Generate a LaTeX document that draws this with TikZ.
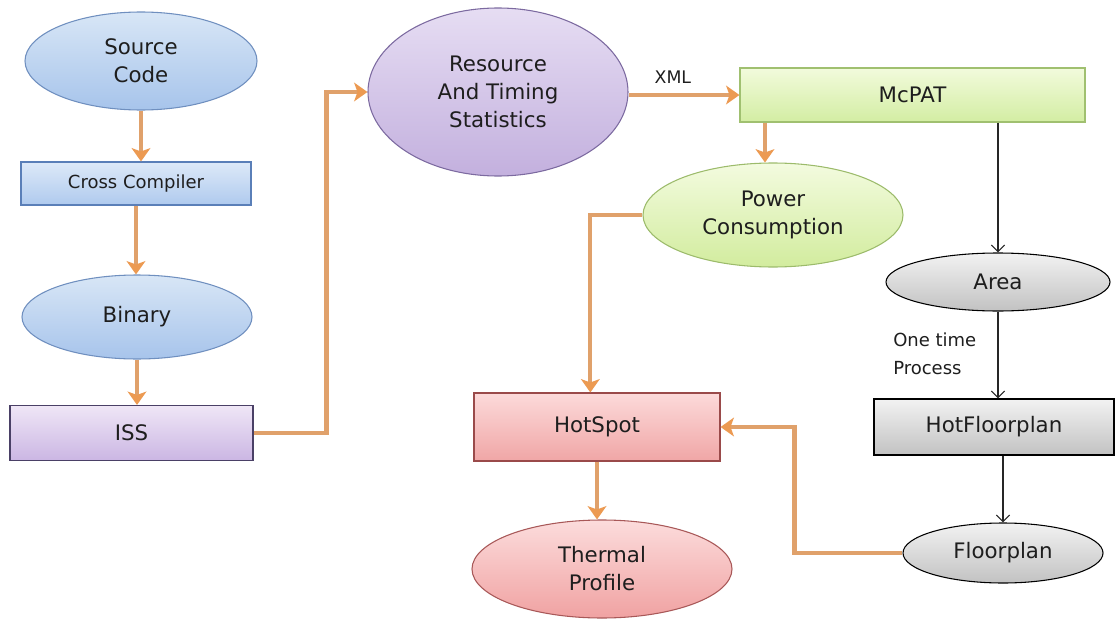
\documentclass[tikz,border=0pt]{standalone}
\usepackage{fontspec}
\setmainfont{DejaVu Sans}
\usetikzlibrary{shapes.geometric,arrows.meta,calc}
\definecolor{orng}{HTML}{E0A16B}
\definecolor{orngtip}{HTML}{EC9A52}
\definecolor{txt}{HTML}{1E1E1E}
\definecolor{bD}{HTML}{6F8FBF}\definecolor{bT}{HTML}{D8E6F6}\definecolor{bB}{HTML}{A7C4EB}
\definecolor{bxD}{HTML}{5A7FB8}\definecolor{bxT}{HTML}{DDE9F8}\definecolor{bxB}{HTML}{AFCAEE}
\definecolor{pD}{HTML}{7C6AA0}\definecolor{pT}{HTML}{E6DDF3}\definecolor{pB}{HTML}{C3B0DE}
\definecolor{pxD}{HTML}{4A4066}\definecolor{pxT}{HTML}{EFE6F6}\definecolor{pxB}{HTML}{CBB6E3}
\definecolor{gD}{HTML}{9CBB6B}\definecolor{gT}{HTML}{F3FBDF}\definecolor{gB}{HTML}{D2EC9E}
\definecolor{gxD}{HTML}{A0C070}\definecolor{gxT}{HTML}{F2FBDC}\definecolor{gxB}{HTML}{D3EDA3}
\definecolor{rD}{HTML}{A85858}\definecolor{rT}{HTML}{FCDCDC}\definecolor{rB}{HTML}{F0A2A2}
\definecolor{rxD}{HTML}{9A4A4A}\definecolor{rxT}{HTML}{FCDADA}\definecolor{rxB}{HTML}{F0A6A6}
\definecolor{kT}{HTML}{F2F2F2}\definecolor{kB}{HTML}{C2C2C2}
\tikzset{
  base/.style={draw, line width=0.8pt, inner sep=0pt, align=center, text=txt,
    font=\fontsize{16}{21}\selectfont},
  ell/.style={base, ellipse},
  box/.style={base, rectangle},
  blueell/.style={ell, draw=bD, top color=bT, bottom color=bB},
  purpell/.style={ell, draw=pD, top color=pT, bottom color=pB},
  greenell/.style={ell, draw=gD, top color=gT, bottom color=gB},
  pinkell/.style={ell, draw=rD, top color=rT, bottom color=rB},
  grayell/.style={ell, draw=black, top color=kT, bottom color=kB},
  bluebox/.style={box, draw=bxD, top color=bxT, bottom color=bxB},
  purpbox/.style={box, draw=pxD, top color=pxT, bottom color=pxB},
  greenbox/.style={box, draw=gxD, top color=gxT, bottom color=gxB},
  pinkbox/.style={box, draw=rxD, top color=rxT, bottom color=rxB},
  graybox/.style={box, draw=black, top color=kT, bottom color=kB},
  oarrow/.style={draw=orng, line width=3.2pt, -{Stealth[length=10pt,width=14pt,inset=2.5pt,color=orngtip]}},
  karrow/.style={draw=black!85, line width=0.9pt, -{Straight Barb[length=5pt,width=10pt]}},
  lbl/.style={inner sep=0pt, text=txt},
}
\begin{document}
\begin{tikzpicture}[x=0.75pt,y=-0.75pt]
\useasboundingbox (0,0) rectangle (1115,621);
% left column
\node[blueell, minimum width=232pt*0.75, minimum height=98pt*0.75] (src) at (141,61) {Source\\Code};
\node[bluebox, minimum width=230pt*0.75, minimum height=43pt*0.75, font=\fontsize{13.5}{18}\selectfont] (cc) at (136,183.5) {Cross Compiler};
\node[blueell, minimum width=230pt*0.75, minimum height=84pt*0.75] (bin) at (137,317) {Binary};
\node[purpbox, minimum width=243pt*0.75, minimum height=55pt*0.75] (iss) at (131.5,433) {ISS};
% middle
\node[purpell, minimum width=260pt*0.75, minimum height=168pt*0.75] (res) at (498,92) {Resource\\And Timing\\Statistics};
\node[greenbox, minimum width=345pt*0.75, minimum height=54pt*0.75] (mc) at (912.5,95) {McPAT};
\node[greenell, minimum width=260pt*0.75, minimum height=104pt*0.75] (pow) at (773,215) {Power\\Consumption};
\node[pinkbox, minimum width=246pt*0.75, minimum height=68pt*0.75] (hs) at (597,427) {HotSpot};
\node[pinkell, minimum width=260pt*0.75, minimum height=98pt*0.75] (tp) at (602,569) {Thermal\\Profile};
% right
\node[grayell, minimum width=224pt*0.75, minimum height=58pt*0.75] (area) at (998,282) {Area};
\node[graybox, minimum width=240pt*0.75, minimum height=56pt*0.75] (hfp) at (994,427) {HotFloorplan};
\node[grayell, minimum width=200pt*0.75, minimum height=60pt*0.75] (fp) at (1003,553) {Floorplan};
% connectors
\draw[oarrow] (src.south) -- (src.south |- cc.north);
\draw[oarrow] (cc.south) -- (cc.south |- bin.north);
\draw[oarrow] (bin.south) -- (bin.south |- iss.north);
\draw[oarrow] (iss.east) -- ++(73,0) |- (res.west);
\draw[oarrow] (mc.west -| res.east) -- node[lbl, above=7pt, font=\fontsize{13}{16}\selectfont, pos=0.4] (xml) {XML} (mc.west);
\draw[oarrow] (mc.south -| pow.north) ++(-8,0) -- ++(0,40);
\draw[karrow] (mc.south -| area.north) -- (area.north);
\draw[karrow] (area.south) -- (area.south |- hfp.north);
\node[lbl, align=left, anchor=west, font=\fontsize{13.5}{21}\selectfont] (otp) at (893,354) {One time\\Process};
\draw[karrow] (hfp.south -| fp.north) -- (fp.north);
\draw[oarrow] (pow.west) -| ([xshift=-5pt]hs.north);
\draw[oarrow] (hs.south) -- (hs.south |- tp.north);
\draw[oarrow] (fp.west) -- ++(-108,0) |- (hs.east);
\end{tikzpicture}
\end{document}
